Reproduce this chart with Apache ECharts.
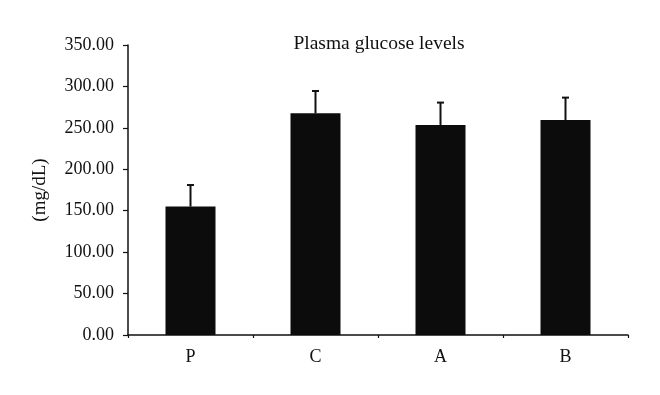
<!DOCTYPE html>
<html>
<head>
<meta charset="utf-8">
<script src="https://cdn.jsdelivr.net/npm/echarts@6/dist/echarts.min.js"></script>
<style>
    html, body {margin: 0; padding: 0; background: #fff;}
    #chart {width: 660px; height: 395px;}
</style>
</head>
<body>
<div id="chart"></div>
<script>
let groups = ['P', 'C', 'A', 'B']
let glucose = [155, 267.5, 253.5, 259.5]
let glucose_err = [26, 27, 27, 27]

let font = 'Liberation Serif'

let err_data = []
for (let i = 0; i < groups.length; i++) {
    err_data.push([i, glucose[i], glucose[i] + glucose_err[i]])
}

option = {
    animation: false,
    title: {
        text: 'Plasma glucose levels',
        left: 374,
        textAlign: 'center',
        top: 29,
        textStyle: {
            fontFamily: font,
            fontSize: 19.5,
            fontWeight: 'normal',
            color: '#111'
        }
    },
    grid: {
        left: 128,
        right: 32,
        top: 45,
        bottom: 60
    },
    xAxis: {
        type: 'category',
        data: groups,
        axisLine: {lineStyle: {color: '#111', width: 1.5}},
        axisTick: {show: true, length: 3, lineStyle: {color: '#111', width: 1.2}},
        axisLabel: {
            fontFamily: font,
            fontSize: 18,
            color: '#111',
            margin: 13
        }
    },
    yAxis: {
        type: 'value',
        min: 0,
        max: 350,
        interval: 50,
        name: '(mg/dL)',
        nameLocation: 'middle',
        nameGap: 78,
        nameTextStyle: {
            fontFamily: font,
            fontSize: 19,
            color: '#111'
        },
        axisLine: {show: true, lineStyle: {color: '#111', width: 1.5}},
        axisTick: {show: true, inside: false, length: 5, lineStyle: {color: '#111', width: 1.2}},
        splitLine: {show: false},
        axisLabel: {
            fontFamily: font,
            fontSize: 18,
            color: '#111',
            margin: 14,
            formatter: function (v) {
                return v.toFixed(2)
            }
        }
    },
    series: [
        {
            name: 'glucose',
            type: 'bar',
            data: glucose,
            barWidth: '40%',
            itemStyle: {color: '#0b0c0b'}
        },
        {
            name: 'error',
            type: 'custom',
            data: err_data,
            z: 1,
            renderItem: function (params, api) {
                let base = api.coord([api.value(0), api.value(1)])
                let top = api.coord([api.value(0), api.value(2)])
                let half = 3.5
                let style = {stroke: '#111', lineWidth: 2}
                return {
                    type: 'group',
                    children: [
                        {type: 'line', shape: {x1: base[0], y1: base[1], x2: top[0], y2: top[1]}, style: style},
                        {type: 'line', shape: {x1: top[0] - half, y1: top[1], x2: top[0] + half, y2: top[1]}, style: style}
                    ]
                }
            }
        }
    ]
}

const dom = document.getElementById('chart')
const myChart = echarts.init(dom)
if (option && typeof option === 'object') {
    myChart.setOption(option, true)
}
</script>
</body>
</html>
